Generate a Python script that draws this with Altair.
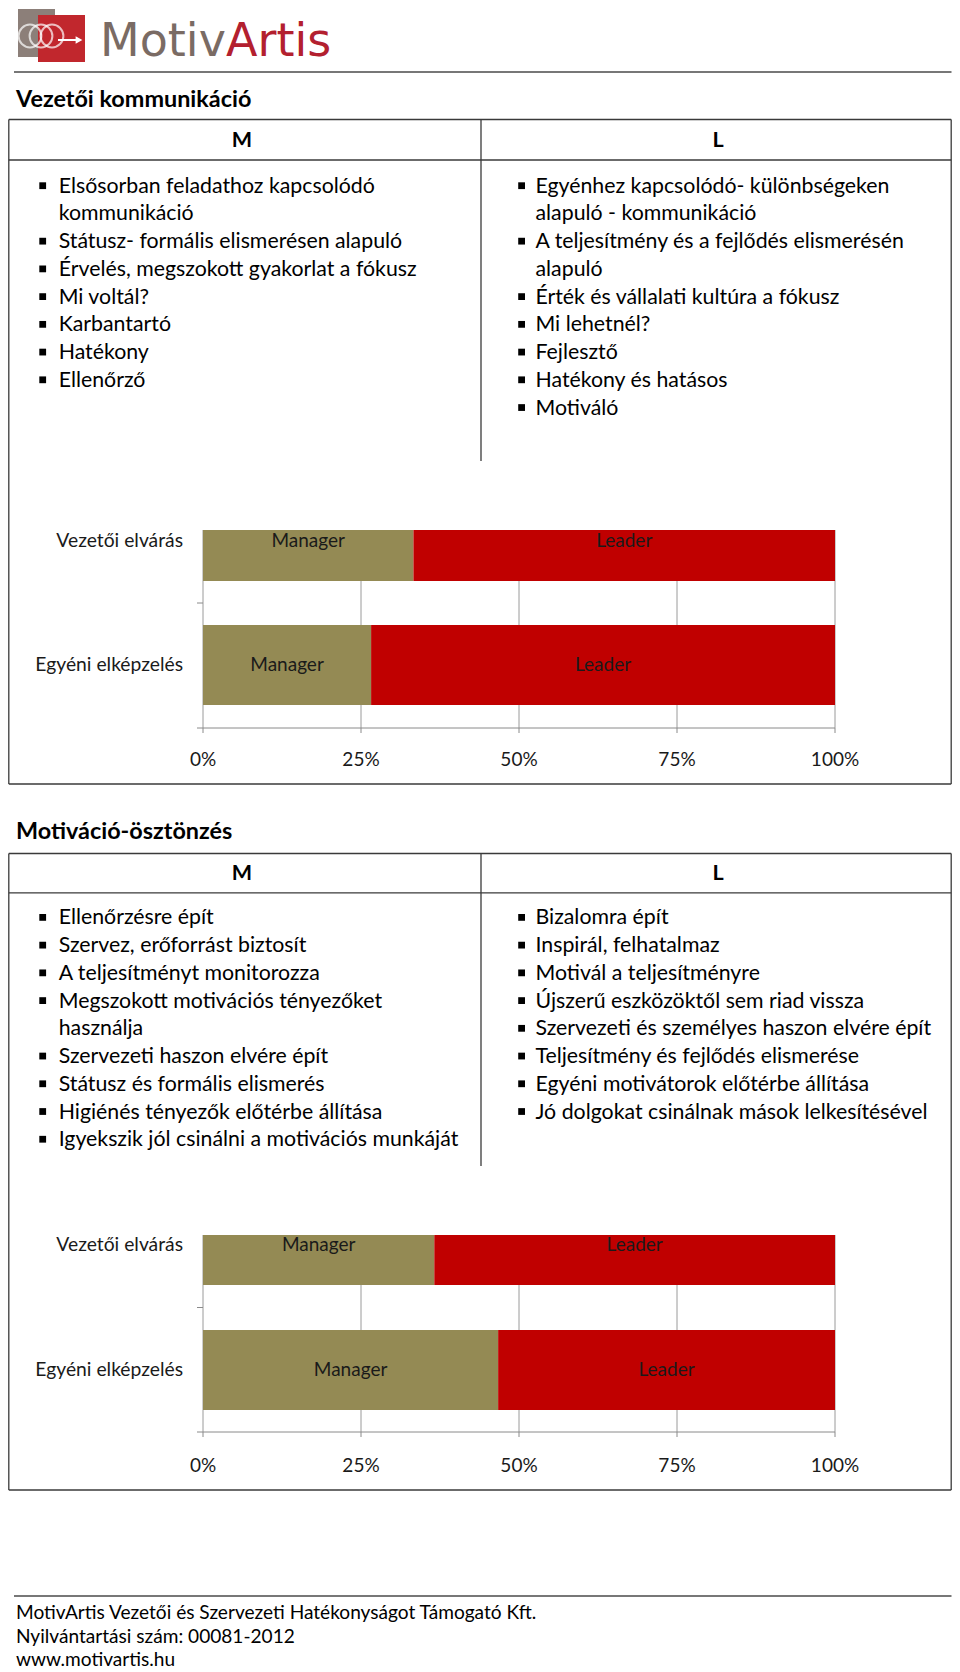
import altair as alt
import pandas as pd

# ---------------- data ----------------
categories = ["Vezetői elvárás", "Egyéni elképzelés"]
series = ["Manager", "Leader"]
chart1_manager = [0.333, 0.266]
chart1_leader = [0.667, 0.734]
chart2_manager = [0.366, 0.467]
chart2_leader = [0.634, 0.533]
tick_values = [0.0, 0.25, 0.5, 0.75, 1.0]
tick_labels = ["0%", "25%", "50%", "75%", "100%"]

section_titles = ["Vezetői kommunikáció", "Motiváció-ösztönzés"]
column_headers = ["M", "L"]

table1_left = [
    ["Elsősorban feladathoz kapcsolódó", "kommunikáció"],
    ["Státusz- formális elismerésen alapuló"],
    ["Érvelés, megszokott gyakorlat a fókusz"],
    ["Mi voltál?"],
    ["Karbantartó"],
    ["Hatékony"],
    ["Ellenőrző"],
]
table1_right = [
    ["Egyénhez kapcsolódó- különbségeken", "alapuló - kommunikáció"],
    ["A teljesítmény és a fejlődés elismerésén", "alapuló"],
    ["Érték és vállalati kultúra a fókusz"],
    ["Mi lehetnél?"],
    ["Fejlesztő"],
    ["Hatékony és hatásos"],
    ["Motiváló"],
]
table2_left = [
    ["Ellenőrzésre épít"],
    ["Szervez, erőforrást biztosít"],
    ["A teljesítményt monitorozza"],
    ["Megszokott motivációs tényezőket", "használja"],
    ["Szervezeti haszon elvére épít"],
    ["Státusz és formális elismerés"],
    ["Higiénés tényezők előtérbe állítása"],
    ["Igyekszik jól csinálni a motivációs munkáját"],
]
table2_right = [
    ["Bizalomra épít"],
    ["Inspirál, felhatalmaz"],
    ["Motivál a teljesítményre"],
    ["Újszerű eszközöktől sem riad vissza"],
    ["Szervezeti és személyes haszon elvére épít"],
    ["Teljesítmény és fejlődés elismerése"],
    ["Egyéni motivátorok előtérbe állítása"],
    ["Jó dolgokat csinálnak mások lelkesítésével"],
]
footer_lines = [
    "MotivArtis Vezetői és Szervezeti Hatékonyságot Támogató Kft.",
    "Nyilvántartási szám: 00081-2012",
    "www.motivartis.hu",
]
logo_parts = ["Motiv", "Artis"]

# ---------------- layout / style ----------------
OFF = 8  # page margin
W, H = 944, 1664
FONT = "Lato"
MANAGER_COLOR = "#948a54"
LEADER_COLOR = "#c00000"
ROW = 27.73

TBL_L, TBL_M, TBL_R = 8.8, 481, 951.2
HEAD_X = [242, 718]
sections = [
    dict(title_y=100, top=119.5, head_y=141, head_line=160, row0=186.7,
         div_bottom=461, box_bottom=784,
         chart_top=530, cat_y=[541, 665], axis_y=728, tick_y=759.5),
    dict(title_y=832, top=853.5, head_y=873.6, head_line=892.8, row0=918.4,
         div_bottom=1166, box_bottom=1490,
         chart_top=1235, cat_y=[1245, 1370], axis_y=1432, tick_y=1466),
]
X0, X1 = 203, 835  # 0% and 100%
LABEL_RIGHT = 183


def px(v):
    return v - OFF


def text_layer(rows, size, weight="normal", align="left", color="#000000",
               baseline="middle", font=FONT):
    df = pd.DataFrame(rows)
    return alt.Chart(df).mark_text(
        align=align, baseline=baseline, fontSize=size, fontWeight=weight,
        font=font, color=color
    ).encode(
        x=alt.X("x:Q", scale=None, axis=None),
        y=alt.Y("y:Q", scale=None, axis=None),
        text="text:N",
    )


def rule_layer(rows, color="#333333", width=1.2):
    df = pd.DataFrame(rows)
    return alt.Chart(df).mark_rule(color=color, strokeWidth=width).encode(
        x=alt.X("x:Q", scale=None, axis=None),
        y=alt.Y("y:Q", scale=None, axis=None),
        x2="x2:Q",
        y2="y2:Q",
    )


layers = []

# ---------------- logo ----------------
layers.append(alt.Chart(pd.DataFrame({"k": [0]})).mark_rect(color="#8c7f79").encode(
    x=alt.value(px(18)), x2=alt.value(px(55)), y=alt.value(px(9)), y2=alt.value(px(57))))
layers.append(alt.Chart(pd.DataFrame({"k": [0]})).mark_rect(color="#c1272d").encode(
    x=alt.value(px(38)), x2=alt.value(px(85)), y=alt.value(px(15)), y2=alt.value(px(62))))
coil = pd.DataFrame({"x": [px(30), px(41), px(52)], "y": [px(36), px(36), px(36)]})
layers.append(alt.Chart(coil).mark_point(shape="circle", filled=False, color="white",
                                          strokeWidth=2, size=520).encode(
    x=alt.X("x:Q", scale=None, axis=None), y=alt.Y("y:Q", scale=None, axis=None)))
layers.append(alt.Chart(pd.DataFrame({"k": [0]})).mark_rule(color="white", strokeWidth=2).encode(
    x=alt.value(px(58)), x2=alt.value(px(78)), y=alt.value(px(40)), y2=alt.value(px(40))))
layers.append(alt.Chart(pd.DataFrame({"k": [0]})).mark_point(
    shape="triangle-right", filled=True, color="white", size=60, opacity=1).encode(
    x=alt.value(px(79)), y=alt.value(px(40))))
layers.append(text_layer([{"x": px(100), "y": px(56), "text": logo_parts[0]}], 46,
                         color="#7a6b64", baseline="alphabetic", font="DejaVu Sans"))
layers.append(text_layer([{"x": px(226), "y": px(56), "text": logo_parts[1]}], 46,
                         color="#b3202f", baseline="alphabetic", font="DejaVu Sans"))

# header & footer lines
layers.append(rule_layer([
    {"x": px(14), "x2": px(951.5), "y": px(72), "y2": px(72)},
    {"x": px(14), "x2": px(951.5), "y": px(1596), "y2": px(1596)},
], color="#4a4a4a", width=1.6))

# ---------------- tables ----------------
tables = [(table1_left, table1_right), (table2_left, table2_right)]
table_rules = []
title_rows, header_rows, body_rows, bullet_rows = [], [], [], []
for si, (s, (left, right)) in enumerate(zip(sections, tables)):
    title_rows.append({"x": px(16), "y": px(s["title_y"]), "text": section_titles[si]})
    for hx, h in zip(HEAD_X, column_headers):
        header_rows.append({"x": px(hx), "y": px(s["head_y"]), "text": h})
    table_rules += [
        {"x": px(TBL_L), "x2": px(TBL_R), "y": px(s["top"]), "y2": px(s["top"])},
        {"x": px(TBL_L), "x2": px(TBL_R), "y": px(s["head_line"]), "y2": px(s["head_line"])},
        {"x": px(TBL_L), "x2": px(TBL_R), "y": px(s["box_bottom"]), "y2": px(s["box_bottom"])},
        {"x": px(TBL_L), "x2": px(TBL_L), "y": px(s["top"]), "y2": px(s["box_bottom"])},
        {"x": px(TBL_R), "x2": px(TBL_R), "y": px(s["top"]), "y2": px(s["box_bottom"])},
        {"x": px(TBL_M), "x2": px(TBL_M), "y": px(s["top"]), "y2": px(s["div_bottom"])},
    ]
    for items, bx, tx in [(left, 42.7, 58.7), (right, 521.6, 535.5)]:
        line = 0
        for item in items:
            for j, t in enumerate(item):
                y = s["row0"] + line * ROW
                if j == 0:
                    bullet_rows.append({"x": px(bx), "y": px(y - 1)})
                body_rows.append({"x": px(tx), "y": px(y), "text": t})
                line += 1

layers.append(rule_layer(table_rules, color="#3a3a3a", width=1.3))
layers.append(text_layer(title_rows, 23.4, weight="bold"))
layers.append(text_layer(header_rows, 21.5, weight="bold", align="center"))
layers.append(text_layer(body_rows, 21.3))
layers.append(alt.Chart(pd.DataFrame(bullet_rows)).mark_square(
    color="#000000", size=46, opacity=1).encode(
    x=alt.X("x:Q", scale=None, axis=None), y=alt.Y("y:Q", scale=None, axis=None)))

# ---------------- bar charts ----------------
def bar_chart(manager_vals, leader_vals, s):
    rows = []
    for i, cat in enumerate(categories):
        m, l = manager_vals[i], leader_vals[i]
        rows.append({"cat": cat, "series": series[0], "start": 0.0, "end": m})
        rows.append({"cat": cat, "series": series[1], "start": m, "end": m + l})
    df = pd.DataFrame(rows)
    df["mid"] = (df["start"] + df["end"]) / 2
    xs = alt.Scale(domain=[0, 1], range=[px(X0), px(X1)])
    ys = alt.Scale(type="point", domain=categories, range=[px(s["cat_y"][0]), px(s["cat_y"][1])],
                   padding=0)
    top, axis_y = s["chart_top"], s["axis_y"]
    ticks = pd.DataFrame({"v": tick_values, "lab": tick_labels})
    out = []
    # gridlines
    out.append(alt.Chart(ticks).mark_rule(color="#9a9a9a", strokeWidth=1).encode(
        x=alt.X("v:Q", scale=xs, axis=None),
        y=alt.value(px(top)), y2=alt.value(px(axis_y))))
    # bars
    out.append(alt.Chart(df).mark_bar(size=80).encode(
        x=alt.X("start:Q", scale=xs, axis=None), x2="end:Q",
        y=alt.Y("cat:N", scale=ys, axis=None),
        color=alt.Color("series:N", scale=alt.Scale(domain=series,
                                                    range=[MANAGER_COLOR, LEADER_COLOR]),
                        legend=None)))
    # crop mask above the chart area
    out.append(alt.Chart(pd.DataFrame({"k": [0]})).mark_rect(color="white").encode(
        x=alt.value(px(X0 - 10)), x2=alt.value(px(X1 + 10)),
        y=alt.value(px(top - 40)), y2=alt.value(px(top))))
    # axis lines & ticks
    out.append(alt.Chart(ticks).mark_rule(color="#8a8a8a", strokeWidth=1).encode(
        x=alt.X("v:Q", scale=xs, axis=None),
        y=alt.value(px(axis_y)), y2=alt.value(px(axis_y + 5))))
    out.append(alt.Chart(pd.DataFrame({"k": [0]})).mark_rule(color="#8a8a8a", strokeWidth=1).encode(
        x=alt.value(px(X0 - 6)), x2=alt.value(px(X1)),
        y=alt.value(px(axis_y)), y2=alt.value(px(axis_y))))
    mid_y = (s["cat_y"][0] + s["cat_y"][1]) / 2
    out.append(alt.Chart(pd.DataFrame({"k": [0]})).mark_rule(color="#8a8a8a", strokeWidth=1).encode(
        x=alt.value(px(X0 - 6)), x2=alt.value(px(X0)),
        y=alt.value(px(mid_y)), y2=alt.value(px(mid_y))))
    # bar labels
    out.append(alt.Chart(df).mark_text(fontSize=19, font=FONT, color="#1a1a1a",
                                       baseline="middle").encode(
        x=alt.X("mid:Q", scale=xs, axis=None),
        y=alt.Y("cat:N", scale=ys, axis=None),
        text="series:N"))
    # category labels
    out.append(alt.Chart(pd.DataFrame({"cat": categories})).mark_text(
        fontSize=19.3, font=FONT, color="#1a1a1a", align="right", baseline="middle").encode(
        x=alt.value(px(LABEL_RIGHT)),
        y=alt.Y("cat:N", scale=ys, axis=None),
        text="cat:N"))
    # tick labels
    out.append(alt.Chart(ticks).mark_text(fontSize=19, font=FONT, color="#1a1a1a",
                                          baseline="middle").encode(
        x=alt.X("v:Q", scale=xs, axis=None),
        y=alt.value(px(s["tick_y"])),
        text="lab:N"))
    return out


layers += bar_chart(chart1_manager, chart1_leader, sections[0])
layers += bar_chart(chart2_manager, chart2_leader, sections[1])

# footer text
layers.append(text_layer(
    [{"x": px(16), "y": px(y), "text": t} for y, t in zip([1613, 1636.5, 1660], footer_lines)],
    19.1))

chart = alt.layer(*layers).resolve_scale(
    x="independent", y="independent", color="independent"
).properties(
    width=W, height=H, padding=0,
    autosize=alt.AutoSizeParams(type="none"),
    background="white",
).configure_view(stroke=None)

chart.save("out.html", embed_options={"renderer": "svg", "actions": False})
